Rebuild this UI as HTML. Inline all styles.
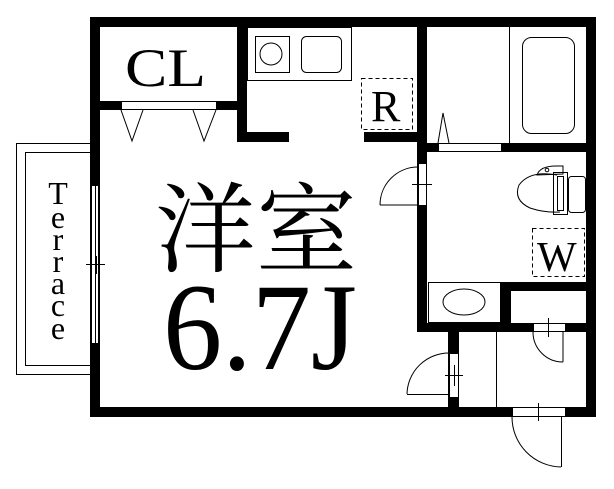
<!DOCTYPE html>
<html><head><meta charset="utf-8"><style>html,body{margin:0;padding:0;background:#fff}svg{display:block}</style></head>
<body>
<svg width="614" height="489" viewBox="0 0 614 489" xmlns="http://www.w3.org/2000/svg">
<rect width="614" height="489" fill="#fff"/>
<rect x="16.5" y="143.5" width="74" height="231" fill="none" stroke="#000"/>
<rect x="25.5" y="152.5" width="65" height="213" fill="none" stroke="#000"/>
<g fill="#000">
<rect x="90" y="17" width="506" height="10"/>
<rect x="90" y="17" width="10" height="400"/>
<rect x="586" y="17" width="10" height="400"/>
<rect x="90" y="407" width="506" height="10"/>
<rect x="237" y="27" width="10" height="115"/>
<rect x="100" y="101" width="137" height="9"/>
<rect x="237" y="132" width="52" height="10"/>
<rect x="364" y="132" width="60" height="10"/>
<rect x="417" y="17" width="10" height="315"/>
<rect x="427" y="143" width="160" height="9"/>
<rect x="501" y="282" width="86" height="9"/>
<rect x="501" y="282" width="10" height="50"/>
<rect x="417" y="323" width="170" height="9"/>
<rect x="448" y="332" width="11" height="75"/>
</g>
<g fill="#fff" stroke="#000" stroke-width="1">
<rect x="121.5" y="101.5" width="95" height="8"/>
<rect x="91.5" y="185.5" width="7" height="158"/>
<rect x="418.5" y="163.5" width="8" height="42"/>
<rect x="438.5" y="143.5" width="63" height="8"/>
<rect x="533.5" y="323.5" width="32" height="8"/>
<rect x="449.5" y="353.5" width="9" height="44"/>
<rect x="512.5" y="407.5" width="53" height="9"/>
</g>
<g fill="none" stroke="#000" stroke-width="1">
<line x1="95.5" y1="185" x2="95.5" y2="343"/>
<line x1="86" y1="264.5" x2="105" y2="264.5"/><line x1="96.5" y1="256" x2="96.5" y2="274"/>
<polyline points="121,110 132,141 143,110"/>
<polyline points="193,110 204,141 216,110"/>
<rect x="247.5" y="27.5" width="104" height="53"/>
<rect x="255.5" y="36.5" width="34" height="36"/>
<circle cx="271" cy="54" r="11"/>
<rect x="301.5" y="36.5" width="40" height="36" rx="5"/>
<rect x="361.5" y="78.5" width="51" height="51" stroke-dasharray="4,3"/>
<line x1="509.5" y1="27" x2="509.5" y2="143"/>
<rect x="522.5" y="37.5" width="52" height="96" rx="9"/>
<polyline points="438,143 443,113 449,143"/>
<path d="M418,167 A38,38 0 0 0 380,205"/>
<line x1="380" y1="205" x2="418" y2="205"/>
<line x1="412" y1="184.5" x2="432" y2="184.5"/>
<!-- toilet -->
<path d="M557,175 Q530,170 519,185 Q513,200 530,208 Q545,213 560,212"/>
<rect x="553.5" y="172.5" width="14" height="42"/>
<rect x="557.5" y="176.5" width="6" height="34"/>
<rect x="568.5" y="176.5" width="17" height="36" rx="3"/>
<path d="M537,175 Q540,166 556,166 L563,166 L563,174 Z"/>
<circle cx="547" cy="170" r="1.8"/>
<rect x="532.5" y="228.5" width="52" height="48" stroke-dasharray="4,3"/>
<rect x="428.5" y="282.5" width="72" height="40"/>
<ellipse cx="464" cy="302" rx="21" ry="13"/>
<path d="M533,332 A30,30 0 0 0 563,362"/>
<line x1="563" y1="332" x2="563" y2="362"/>
<line x1="548.5" y1="318" x2="548.5" y2="337"/>
<line x1="496.5" y1="332" x2="496.5" y2="407"/>
<path d="M449,353 A42,42 0 0 0 407,394"/>
<line x1="407" y1="394.5" x2="449" y2="394.5"/>
<line x1="445" y1="375.5" x2="463" y2="375.5"/>
<line x1="454.5" y1="365" x2="454.5" y2="386"/>
<path d="M512,417 A50,50 0 0 0 561,467"/>
<line x1="561.5" y1="417" x2="561.5" y2="467"/>
<line x1="538.5" y1="403" x2="538.5" y2="421"/>
</g>
<g font-family="Liberation Serif, serif" fill="#000">
<text x="125" y="86" font-size="54" textLength="81" lengthAdjust="spacingAndGlyphs">CL</text>
<text x="371" y="121" font-size="44">R</text>
<text x="537" y="271" font-size="42">W</text>
<text x="163" y="369" font-size="124" textLength="194" lengthAdjust="spacingAndGlyphs">6.7J</text>
</g>
<text x="155" y="264" font-family="'Noto Serif CJK SC', serif" font-size="98" textLength="202" lengthAdjust="spacingAndGlyphs">洋室</text>
<g font-family="Liberation Serif, serif" font-size="32" text-anchor="middle">
<text x="58" y="204">T</text>
<text x="58" y="228">e</text>
<text x="58" y="250">r</text>
<text x="58" y="272">r</text>
<text x="58" y="294">a</text>
<text x="58" y="316">c</text>
<text x="58" y="339">e</text>
</g>
</svg>
</body></html>
